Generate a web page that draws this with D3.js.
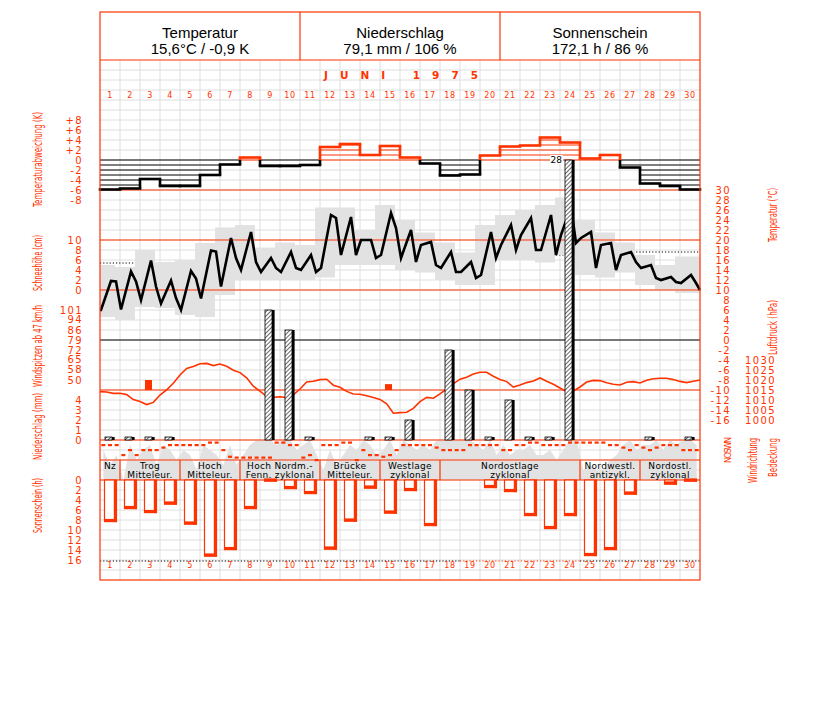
<!DOCTYPE html>
<html><head><meta charset="utf-8">
<script src="https://cdn.jsdelivr.net/npm/d3@7"></script>
<style>
body{margin:0;background:#fff}
svg{display:block}
</style>
</head><body>
<svg id="c" width="827" height="702"></svg>
<script>
// ---------------- DATA ----------------
const days = d3.range(1, 31);
const headerTitles = ["Temperatur", "Niederschlag", "Sonnenschein"];
const headerValues = ["15,6°C / -0,9 K", "79,1 mm / 106 %", "172,1 h / 86 %"];
const monthLabel = "JUNI  1975";

// daily temperature deviation (K)
const tempDev = [-5.9,-5.7,-3.8,-5.2,-5.2,-3.0,-0.9,0.5,-1.2,-1.2,-1.0,2.6,3.2,1.0,2.8,0.5,-0.7,-3.1,-2.9,0.9,2.7,2.9,4.5,3.5,0.3,1.0,-1.5,-4.7,-5.2,-5.9];

// temperature readings morning, afternoon, evening (°C)
const tempObs = [
  6.0,11.8,11.7,  6.1,13.7,11.7,  8.0,15.9,10.7,  7.3,11.9,8.4,  6.0,13.8,12.3,
  8.3,17.9,17.7, 10.7,20.4,16.4, 14.0,21.6,15.6, 13.6,16.4,14.4, 13.6,17.6,14.4,
  14.0,17.0,13.6, 14.4,25.0,24.4, 17.0,24.6,17.0, 20.0,20.0,16.4, 17.0,25.4,22.4,
  16.4,22.0,15.6, 19.0,19.6,15.0, 14.4,17.6,13.6, 13.6,15.6,12.4, 13.0,21.6,16.4,
  19.0,23.0,18.0, 21.0,24.4,18.0, 18.0,25.0,17.0, 21.0,26.6,19.4, 20.4,21.6,14.4,
  19.0,19.4,14.0, 17.0,17.6,15.6, 14.4,15.0,12.4, 12.0,12.6,11.6, 11.4,13.0,11.4
];
const tempEndOfMonth = 10.0;
const tempMax = [15,14.6,18,15.6,16,19.4,22.5,23,18.5,19.5,19,26.5,26.5,22,27,24,21.5,19.5,17.5,23,25,26,27,28.5,24,21.5,19.5,17,15,16.7];
const tempMin = [4.6,4,6.6,6.4,5,4.6,9,12,12,12,12,12.5,15,15,15,14,13.5,12,11,11,16,16,15.5,17,13,12.5,13.5,11,10,9.4];
const tempNormal = [15.4,15.6,15.6,16.2,17.0,17.6]; // per pentad

// air pressure (hPa), 3 readings a day + end value
const pressure = [
 1014.2,1014.0,1013.3, 1013.4,1012.7,1010.2, 1009.2,1007.7,1008.8, 1012.5,1015.1,1018.4,
 1022.5,1025.8,1026.7, 1028.1,1028.3,1027.2, 1028.0,1026.9,1024.9, 1023.7,1021.1,1016.9,
 1014.4,1011.7,1011.3, 1011.6,1011.2,1012.6, 1015.5,1019.0,1019.4, 1020.2,1020.4,1017.4,
 1016.4,1014.3,1013.0, 1012.9,1012.1,1011.2, 1010.3,1008.1,1003.4, 1003.7,1003.9,1005.8,
 1009.2,1011.3,1010.9, 1013.1,1015.5,1018.1, 1020.4,1021.4,1023.0, 1023.9,1023.9,1021.9,
 1020.3,1019.2,1016.5, 1017.5,1018.7,1019.5, 1021.0,1019.4,1017.9, 1016.0,1014.2,1014.5,
 1016.5,1019.0,1019.8, 1019.7,1018.6,1017.9, 1017.5,1018.9,1019.2, 1018.5,1019.9,1020.6,
 1020.9,1020.9,1020.2, 1019.3,1018.7,1019.4, 1020.0
];

// daily precipitation (mm)
const precip = [0.3,0.3,0.3,0.3,0,0,0,0,13,11,0.3,0,0,0.3,0.3,2,0,9,5,0.3,4,0.3,0.3,28,0,0,0,0.3,0,0.3];
// wind gusts >= 47 km/h
const windGust = [null,null,50,null,null,null,null,null,null,null,null,null,null,null,47,null,null,null,null,null,null,null,null,null,null,null,null,null,null,null];
// daily sunshine (h)
const sunshine = [8.3,5.7,6.5,4.8,8.8,15.2,13.9,5.7,0.2,1.7,2.7,13.8,8.2,1.6,6.6,2.1,9.1,0,0,1.5,2.3,7.1,9.7,7.1,15.1,13.9,2.8,0,0.8,0.2];

// cloud cover (octas), 3 readings a day
const cloudCover = [
 6,3,5, 0,7,4, 6,7,3, 7,6,4, 6,5,2, 7,6,5, 3,7,3, 5,7,8, 8,8,7, 8,8,6,
 7,8,5, 2,6,3, 5,7,6, 8,7,5, 6,8,5, 8,7,6, 7,6,8, 8,8,8, 8,8,7, 6,8,5,
 7,5,6, 6,7,5, 5,6,4, 6,8,8, 2,3,2, 2,4,5, 7,8,6, 7,7,8, 6,8,7, 8,8,7
];
// wind direction (degrees), 3 readings a day
const windDir = [
 270,270,270, 90,180,90, 180,180,180, 225,270,270, 270,270,270, 270,315,315, 180,60,45, 45,45,45, 45,45,315, 315,270,270,
 45,90,0, 270,270,270, 315,315,0, 180,90,90, 60,90,180, 270,270,270, 270,270,225, 180,180,180, 180,270,270, 270,270,270,
 180,180,270, 270,315,315, 270,270,270, 270,315,315, 315,315,315, 315,270,270, 225,180,270, 225,180,225, 270,270,270, 180,180,180
];

// large-scale weather types
const weatherTypes = [
  {from:1, to:1,  line1:"Nz", line2:""},
  {from:2, to:4,  line1:"Trog", line2:"Mitteleur."},
  {from:5, to:7,  line1:"Hoch", line2:"Mitteleur."},
  {from:8, to:11, line1:"Hoch Nordm.-", line2:"Fenn. zyklonal"},
  {from:12,to:14, line1:"Brücke", line2:"Mitteleur."},
  {from:15,to:17, line1:"Westlage", line2:"zyklonal"},
  {from:18,to:24, line1:"Nordostlage", line2:"zyklonal"},
  {from:25,to:27, line1:"Nordwestl.", line2:"antizykl."},
  {from:28,to:30, line1:"Nordostl.", line2:"zyklonal"}
];

// axis ticks
const devTicks = [8,6,4,2,0,-2,-4,-6,-8];
const devTickLabels = ["+8","+6","+4","+2","0","-2","-4","-6","-8"];
const snowTicks = [10,8,6,4,2,0];
const windTicks = [101,94,86,79,72,65,58,50];
const precipTicks = [4,3,2,1,0];
const sunTicks = [0,2,4,6,8,10,12,14,16];
const tempTicks = [30,28,26,24,22,20,18,16,14,12,10,8,6,4,2,0,-2,-4,-6,-8,-10,-12,-14,-16];
const pressTicks = [1030,1025,1020,1015,1010,1005,1000];
const dirLabels = "NOSWN";

// ---------------- STYLE ----------------
const RED = "#ff3300";
const GRID = "#dedede";
const BAND = "#e2e2e2";
const FONT = "'DejaVu Sans', sans-serif";

// ---------------- SCALES ----------------
const x = d3.scaleLinear().domain([0, 30]).range([100, 700]);
const yDev = d3.scaleLinear().domain([-8, 8]).range([200, 120]);
const yTemp = d3.scaleLinear().domain([-16, 30]).range([420, 190]);
const yPress = d3.scaleLinear().domain([1000, 1030]).range([420, 360]);
const ySnow = d3.scaleLinear().domain([0, 10]).range([290, 240]);
const yWind = d3.scaleLinear().domain([50, 101]).range([380, 310]);
const yPrec = d3.scaleLinear().domain([0, 4]).range([440, 400]);
const ySun = d3.scaleLinear().domain([0, 16]).range([480, 560]);
const yCloud = d3.scaleLinear().domain([0, 8]).range([480, 440]);
const yDir = d3.scaleLinear().domain([0, 360]).range([460, 440]);

const svg = d3.select("#c");
const defs = svg.append("defs");
const pat = defs.append("pattern").attr("id","hatch").attr("width",3).attr("height",3)
  .attr("patternUnits","userSpaceOnUse").attr("patternTransform","rotate(45)");
pat.append("rect").attr("width",3).attr("height",3).attr("fill","#fff");
pat.append("line").attr("x1",0).attr("y1",0).attr("x2",0).attr("y2",3).attr("stroke","#000").attr("stroke-width",1.2);

svg.append("rect").attr("width",827).attr("height",702).attr("fill","#fff");

// ---------------- GRID ----------------
const grid = svg.append("g");
grid.selectAll("line.v").data(d3.range(1,30)).join("line")
  .attr("x1", d=>x(d)).attr("x2", d=>x(d)).attr("y1", 60).attr("y2", 580)
  .attr("stroke", GRID).attr("stroke-width", 1);
grid.selectAll("line.h").data(d3.range(70, 580, 10)).join("line")
  .attr("x1", 100).attr("x2", 700).attr("y1", d=>d).attr("y2", d=>d)
  .attr("stroke", GRID).attr("stroke-width", 1);

// ---------------- TEMPERATURE PANEL ----------------
const normPts = [];
tempNormal.forEach((v,i)=>{ normPts.push([x(i*5), yTemp(v)]); normPts.push([x(i*5+5), yTemp(v)]); });
svg.append("path").attr("d", d3.line()(normPts)).attr("fill","none")
  .attr("stroke","#000").attr("stroke-width",1).attr("stroke-dasharray","1.2,2");

svg.append("g").selectAll("rect").data(days).join("rect")
  .attr("x", d => Math.max(100, x(d-1.25)))
  .attr("width", d => Math.min(700, x(d-0.25)) - Math.max(100, x(d-1.25)) + (d===30?5:0))
  .attr("y", (d,i) => yTemp(tempMax[i]))
  .attr("height", (d,i) => yTemp(tempMin[i]) - yTemp(tempMax[i]))
  .attr("fill", BAND);

// cloud cover area
const cloudX = i => x(i/3 + 1/6);
svg.append("path")
  .datum(cloudCover)
  .attr("d", d3.area().x((d,i)=>cloudX(i)).y0(480).y1(d=>yCloud(d)))
  .attr("fill", BAND);

// ---------------- REFERENCE LINES ----------------
[190,240,290,390,440,460,480].forEach(y=>{
  svg.append("line").attr("x1",100).attr("x2",700).attr("y1",y).attr("y2",y)
    .attr("stroke",RED).attr("stroke-width",1.2);
});
svg.append("line").attr("x1",100).attr("x2",700).attr("y1",yTemp(0)).attr("y2",yTemp(0))
  .attr("stroke","#000").attr("stroke-width",1);

// ---------------- DEVIATION PANEL ----------------
const devG = svg.append("g");
tempDev.forEach((v,i)=>{
  const col = v > 0 ? RED : "#000";
  devG.append("line").attr("x1",x(i)).attr("x2",x(i+1)).attr("y1",yDev(0)).attr("y2",yDev(0))
    .attr("stroke",col).attr("stroke-width",1);
  const s = Math.sign(v);
  for (let k=1; k < Math.abs(v); k++) {
    devG.append("line").attr("x1",x(i)).attr("x2",x(i+1)).attr("y1",yDev(s*k)).attr("y2",yDev(s*k))
      .attr("stroke",col).attr("stroke-width",1);
  }
});
tempDev.forEach((v,i)=>{
  const col = v > 0 ? RED : "#000";
  devG.append("line").attr("x1",x(i)).attr("x2",x(i+1)).attr("y1",yDev(v)).attr("y2",yDev(v))
    .attr("stroke",col).attr("stroke-width",2.6).attr("stroke-linecap","square");
  if (i < tempDev.length-1) {
    const n = tempDev[i+1];
    if (Math.sign(v) === Math.sign(n)) {
      devG.append("line").attr("x1",x(i+1)).attr("x2",x(i+1)).attr("y1",yDev(v)).attr("y2",yDev(n))
        .attr("stroke",col).attr("stroke-width",2.6);
    } else {
      devG.append("line").attr("x1",x(i+1)).attr("x2",x(i+1)).attr("y1",yDev(v)).attr("y2",yDev(0))
        .attr("stroke",col).attr("stroke-width",2.6);
      devG.append("line").attr("x1",x(i+1)).attr("x2",x(i+1)).attr("y1",yDev(0)).attr("y2",yDev(n))
        .attr("stroke",n>0?RED:"#000").attr("stroke-width",2.6);
    }
  }
});

// ---------------- TEMPERATURE LINE ----------------
const obsFrac = [0.05, 0.55, 0.8];
const tPts = tempObs.map((v,i)=>[x(Math.floor(i/3) + obsFrac[i%3]), yTemp(v)]);
tPts.unshift([x(0), yTemp(tempObs[0])]);
tPts.push([x(30), yTemp(tempEndOfMonth)]);
svg.append("path").attr("d", d3.line()(tPts)).attr("fill","none")
  .attr("stroke","#000").attr("stroke-width",2.6).attr("stroke-linejoin","miter");

// ---------------- PRESSURE LINE ----------------
svg.append("path").datum(pressure)
  .attr("d", d3.line().x((d,i)=>x(i/3)).y(d=>yPress(d)))
  .attr("fill","none").attr("stroke",RED).attr("stroke-width",1.6);

// ---------------- WIND GUSTS ----------------
svg.append("g").selectAll("rect").data(windGust.map((v,i)=>({v,i})).filter(d=>d.v!==null)).join("rect")
  .attr("x", d=>x(d.i+0.25)).attr("width", 7)
  .attr("y", d=>yWind(d.v)).attr("height", d=>390 - yWind(d.v))
  .attr("fill", RED);

// ---------------- PRECIPITATION ----------------
const pG = svg.append("g");
precip.forEach((v,i)=>{
  if (v <= 0) return;
  const top = Math.min(yPrec(v), 437);
  const bx = x(i+0.5) - 5;
  pG.append("rect").attr("x",bx).attr("y",top).attr("width",7).attr("height",440-top)
    .attr("fill","url(#hatch)").attr("stroke","#000").attr("stroke-width",0.8);
  pG.append("rect").attr("x",bx+7).attr("y",top).attr("width",2.6).attr("height",440-top).attr("fill","#000");
});
const bigIdx = precip.indexOf(d3.max(precip));
svg.append("rect").attr("x", x(bigIdx+0.5)-20).attr("y", yPrec(precip[bigIdx])-5).attr("width",13).attr("height",9).attr("fill","#fff");
svg.append("text").attr("x", x(bigIdx+0.5)-8).attr("y", yPrec(precip[bigIdx])+3)
  .attr("text-anchor","end").attr("font-family",FONT).attr("font-size",9).text(String(precip[bigIdx]));

// ---------------- WIND DIRECTION ----------------
svg.append("g").selectAll("rect").data(windDir).join("rect")
  .attr("x", (d,i)=>cloudX(i)-2).attr("y", d=>yDir(d)-1).attr("width",4).attr("height",2.2)
  .attr("fill", RED);

// ---------------- WEATHER TYPES ----------------
const wt = svg.append("g");
weatherTypes.forEach(w=>{
  const cx = (x(w.from-1) + x(w.to)) / 2;
  if (w.from > 1) wt.append("line").attr("x1",x(w.from-1)).attr("x2",x(w.from-1)).attr("y1",460).attr("y2",480)
    .attr("stroke",RED).attr("stroke-width",1.2);
  const t = wt.append("text").attr("text-anchor","middle").attr("font-family",FONT).attr("font-size",9)
    .attr("letter-spacing",0.3).attr("fill","#000");
  t.append("tspan").attr("x",cx).attr("y",468.5).text(w.line1);
  if (w.line2) t.append("tspan").attr("x",cx).attr("y",477.5).text(w.line2);
});

// ---------------- SUNSHINE ----------------
const sG = svg.append("g");
sunshine.forEach((v,i)=>{
  if (v <= 0) return;
  const bx = x(i) + 4, w = 13, h = ySun(v) - 480;
  sG.append("rect").attr("x",bx+0.5).attr("y",480).attr("width",w-1).attr("height",h)
    .attr("fill","#fff").attr("stroke",RED).attr("stroke-width",1.2);
  sG.append("rect").attr("x",bx+w-3.2).attr("y",480).attr("width",3.2).attr("height",h+0.6).attr("fill",RED);
  sG.append("rect").attr("x",bx).attr("y",480+h-2.6).attr("width",w).attr("height",3.2).attr("fill",RED);
});
[[100,460,"#000"],[460,580,RED],[580,700,"#000"]].forEach(([a,b,c])=>{
  svg.append("line").attr("x1",a).attr("x2",b).attr("y1",ySun(16)+1).attr("y2",ySun(16)+1)
    .attr("stroke",c).attr("stroke-width",1.2).attr("stroke-dasharray","1.2,2");
});

// ---------------- DAY LABELS ----------------
[98, 568].forEach(yy=>{
  svg.append("g").selectAll("text").data(days).join("text")
    .attr("x", d=>x(d-0.5)).attr("y", yy).attr("text-anchor","middle")
    .attr("font-family",FONT).attr("font-size",8).attr("letter-spacing",0.6).attr("fill",RED)
    .text(d=>d);
});
svg.append("text").attr("x",324).attr("y",79).attr("textLength",154).attr("lengthAdjust","spacing")
  .attr("font-family",FONT).attr("font-size",10.5).attr("font-weight","bold").attr("fill",RED).text(monthLabel);

// ---------------- HEADER ----------------
headerTitles.forEach((t,i)=>{
  const cx = 200 + i*200;
  svg.append("text").attr("x",cx).attr("y",37.5).attr("text-anchor","middle")
    .attr("font-family","'Liberation Sans', Arial, sans-serif").attr("font-size",15).text(t);
  svg.append("text").attr("x",cx).attr("y",54).attr("text-anchor","middle")
    .attr("font-family","'Liberation Sans', Arial, sans-serif").attr("font-size",15).text(headerValues[i]);
});

svg.append("rect").attr("x",100).attr("y",12).attr("width",600).attr("height",568)
  .attr("fill","none").attr("stroke",RED).attr("stroke-width",1.2);
svg.append("line").attr("x1",100).attr("x2",700).attr("y1",60).attr("y2",60).attr("stroke",RED).attr("stroke-width",1.2);
[300,500].forEach(xx=>svg.append("line").attr("x1",xx).attr("x2",xx).attr("y1",12).attr("y2",60).attr("stroke",RED).attr("stroke-width",1.2));

// ---------------- AXES ----------------
function axis(scale, vals, labels, xPos) {
  const a = d3.axisLeft(scale).tickValues(vals)
    .tickFormat((d,i)=>labels[i]).tickSize(0).tickPadding(0);
  const g = svg.append("g").attr("transform",`translate(${xPos},0)`).call(a);
  g.select(".domain").remove();
  g.selectAll("text").attr("fill",RED).attr("font-family",FONT).attr("font-size",10)
    .attr("letter-spacing",1.4).attr("x",0);
  return g;
}
axis(yDev, devTicks, devTickLabels, 83);
axis(ySnow, snowTicks, snowTicks.map(String), 83);
axis(yWind, windTicks, windTicks.map(String), 83);
axis(yPrec, precipTicks, precipTicks.map(String), 83);
axis(ySun, sunTicks, sunTicks.map(String), 83);
axis(yTemp, tempTicks, tempTicks.map(String), 731);
axis(yPress, pressTicks, pressTicks.map(String), 776);

function vtitle(txt, xb, yBottom, len, size) {
  svg.append("text").attr("transform",`translate(${xb},${yBottom}) rotate(-90)`)
    .attr("textLength",len).attr("lengthAdjust","spacingAndGlyphs")
    .attr("font-family",FONT).attr("font-size",size||12).attr("fill",RED).text(txt);
}
vtitle("Temperaturabweichung (K)", 42, 207, 95);
vtitle("Schneehöhe (cm)", 42, 291, 56);
vtitle("Windspitzen ab 47 km/h", 42, 387, 82);
vtitle("Niederschlag (mm)", 42, 460, 67);
vtitle("Sonnenschein (h)", 42, 533, 55);
vtitle("Temperatur (°C)", 777, 242, 54);
vtitle("Luftdruck (hPa)", 777, 355, 55);
vtitle("Windrichtung", 757, 483, 45);
vtitle("Bedeckung", 777, 477, 39);
svg.append("text").attr("transform",`translate(731,463) rotate(-90)`)
  .attr("textLength",26).attr("lengthAdjust","spacing")
  .attr("font-family",FONT).attr("font-size",8).attr("fill",RED).text(dirLabels);
</script>
</body></html>
